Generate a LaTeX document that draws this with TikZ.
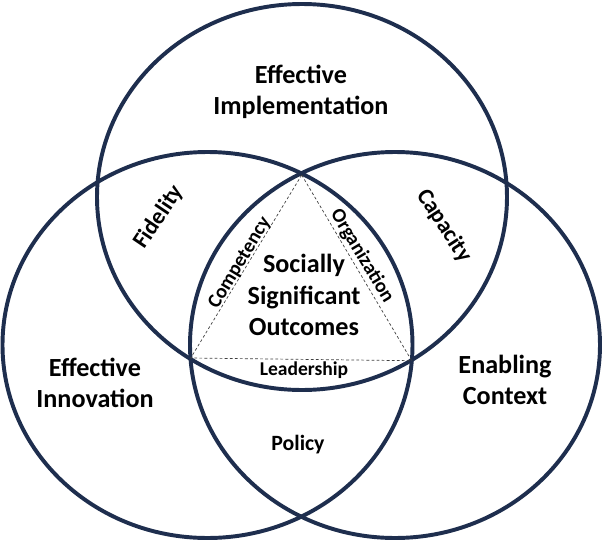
\documentclass[tikz,border=0pt]{standalone}
\usepackage{fontspec}
\setmainfont{Carlito}
\definecolor{ringblue}{RGB}{30,46,78}
\begin{document}
\begin{tikzpicture}[x=0.025cm, y=-0.025cm,
    ring/.style={draw=ringblue, line width=2.8pt},
    big/.style={font=\bfseries\fontsize{18.6}{22.4}\selectfont, align=center, inner sep=0pt},
    mid/.style={font=\bfseries\fontsize{16.5}{20}\selectfont, inner sep=0pt},
    small/.style={font=\bfseries\fontsize{14.2}{17}\selectfont, inner sep=0pt},
    side/.style={draw=black!75, line width=0.5pt, dash pattern=on 2pt off 1.6pt}]
    \useasboundingbox (0,0) rectangle (608,547);
    % the three rings
    \draw[ring] (302,197)   ellipse [x radius=205, y radius=193];
    \draw[ring] (207.5,345) ellipse [x radius=205, y radius=193];
    \draw[ring] (395,345)   ellipse [x radius=205, y radius=193];
    % dashed triangle in the middle
    \coordinate (apex)  at (301.7,175);
    \coordinate (lbase) at (190.7,358);
    \coordinate (rbase) at (411.7,360.7);
    \draw[side] (apex) -- (lbase) -- (rbase) -- cycle;
    % ring labels
    \node[big] (impl)  at (301,92)    {Effective\\Implementation};
    \node[big] (innov) at (95,383)    {Effective\\Innovation};
    \node[big] (ctx)   at (505,380)   {Enabling\\Context};
    \node[big] (outc)  at (304,295)   {Socially\\Significant\\Outcomes};
    % overlap labels
    \node[mid, rotate=56]  (fid) at (159,217) {Fidelity};
    \node[mid, rotate=-57] (cap) at (444,226) {Capacity};
    \node[small, font=\bfseries\fontsize{15.5}{18}\selectfont] (pol) at (298,445) {Policy};
    % triangle side labels
    \node[small, rotate=59]  (comp) at (240,263) {Competency};
    \node[small, rotate=-59] (org)  at (362,256) {Organization};
    \node[small, font=\bfseries\fontsize{13.9}{17}\selectfont] (lead) at (304,370) {Leadership};
\end{tikzpicture}
\end{document}
